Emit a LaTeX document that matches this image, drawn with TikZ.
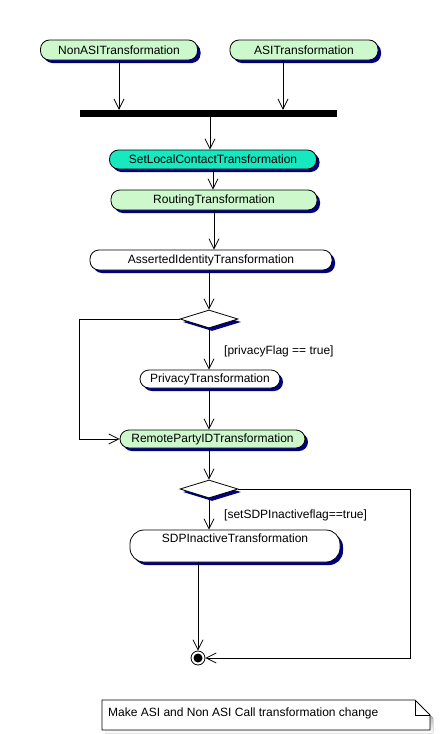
\documentclass[tikz,border=0pt]{standalone}
\usepackage{fontspec}
\setmainfont{Liberation Sans}
\usetikzlibrary{arrows.meta,shapes.geometric,shadows,calc}
\definecolor{actgreen}{RGB}{204,248,204}
\definecolor{actcyan}{RGB}{24,232,192}
\definecolor{shade}{RGB}{0,0,128}
\begin{document}
\begin{tikzpicture}[x=1pt,y=-1pt,
  txt/.style={font=\fontsize{12}{14}\selectfont},
  shd/.style={drop shadow={shadow xshift=3pt,shadow yshift=-3pt,fill=shade,opacity=1}},
  act/.style={draw, line width=0.8pt, rounded corners=9pt, inner sep=0pt, minimum height=20pt, txt, shd},
  decide/.style={draw, line width=0.8pt, diamond, inner sep=0pt, minimum width=58pt, minimum height=18pt, fill=white, shd},
  arr/.style={line width=0.8pt, -{Straight Barb[length=10pt,width=10pt]}},
  plain/.style={line width=0.8pt}]
\useasboundingbox (0,0) rectangle (441,734);

% activities
\node[act, fill=actgreen, minimum width=157pt] (nonasi) at (119,50) {NonASITransformation};
\node[act, fill=actgreen, minimum width=148pt] (asi) at (304,50) {ASITransformation};
\node[fill=black, inner sep=0pt, minimum width=257pt, minimum height=7pt] (bar) at (208.5,113.5) {};
\node[act, fill=actcyan, minimum width=207pt, minimum height=19pt] (setlocal) at (213,159.5) {SetLocalContactTransformation};
\node[act, fill=actgreen, minimum width=206pt] (routing) at (214,200) {RoutingTransformation};
\node[act, fill=white, minimum width=242pt] (asserted) at (211,260) {AssertedIdentityTransformation};
\node[decide] (d1) at (209,319) {};
\node[act, fill=white, minimum width=140pt, minimum height=18pt] (privacy) at (210,379) {PrivacyTransformation};
\node[act, fill=actgreen, minimum width=185pt, minimum height=18pt] (remote) at (212.5,439) {RemotePartyIDTransformation};
\node[decide] (d2) at (209,489) {};
\node[act, fill=white, rounded corners=14pt, minimum width=210pt, minimum height=32pt, text height=12pt, text depth=20pt] (sdp) at (235,546) {SDPInactiveTransformation};
\node[circle, draw, line width=0.8pt, fill=white, minimum size=14pt, inner sep=0pt] (final) at (198,658) {};
\fill (final.center) circle (4.5);

% guards
\node[txt, anchor=west, inner sep=0pt] (g1) at (224,351) {[privacyFlag == true]};
\node[txt, anchor=west, inner sep=0pt] (g2) at (224,515) {[setSDPInactiveflag==true]};

% connectors
\coordinate (asiout) at (283,60);
\coordinate (barout) at (210,117);
\draw[arr] (nonasi.south) -- (nonasi.south |- bar.north);
\draw[arr] (asiout) -- (asiout |- bar.north);
\draw[arr] (barout) -- (barout |- setlocal.north);
\draw[arr] (setlocal.south) -- (setlocal.south |- routing.north);
\draw[arr] (routing.south) -- (routing.south |- asserted.north);
\draw[arr] (d1.north |- asserted.south) -- (d1.north);
\draw[arr] (d1.south) -- (d1.south |- privacy.north);
\draw[arr] (privacy.south -| d1.south) -- (d1.south |- remote.north);
\draw[arr] (d1.west) -- ++(-100,0) |- (remote.west);
\draw[arr] (d2.north |- remote.south) -- (d2.north);
\draw[arr] (d2.south) -- (d2.south |- sdp.north);
\draw[arr] (final.north |- sdp.south) -- (final.north);
\draw[arr] (d2.east) -- ++(172,0) |- (final.east);

% note
\coordinate (nw) at (102,700);
\coordinate (se) at (430,730);
\fill[shade] ($(nw)+(3,3)$) -- (418,703) -- (433,718) -- (433,733) -- (105,733) -- cycle;
\draw[plain, fill=white] (nw) -- (415,700) -- (430,715) -- (se) -- (nw |- se) -- cycle;
\draw[plain] (415,700) -- (415,715) -- (430,715);
\node[txt, anchor=west, inner sep=0pt] (note) at (108,713) {Make ASI and Non ASI Call transformation change};
\end{tikzpicture}
\end{document}
